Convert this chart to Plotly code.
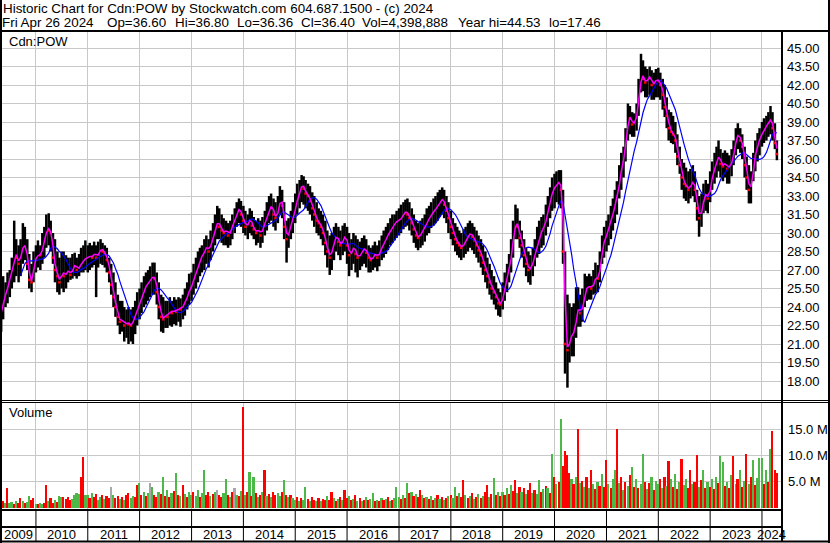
import plotly.graph_objects as go
import pandas as pd

# ---------------- data (semi-monthly bars) ----------------
dates = pd.date_range("2009-05-01", periods=360, freq="SMS")

hi = [
 25.5, 26.5, 26.0, 26.8, 27.0, 28.0, 31.0, 29.5, 29.0, 29.5, 30.8, 30.5, 29.5, 28.3, 27.5, 28.5,
 29.0, 29.4, 29.0, 30.0, 30.5, 31.5, 31.6, 31.0, 30.0, 29.5, 28.5, 28.0, 28.5, 28.5, 28.2, 28.0, 28.0, 28.3, 28.4, 28.0, 28.3, 28.8, 29.0, 29.4,
 29.0, 29.2, 29.0, 29.3, 29.0, 29.3, 29.5, 29.2, 29.0, 28.8, 28.0, 27.5, 26.8, 26.0, 25.0, 24.5, 24.5, 24.0, 23.8, 24.0, 23.8, 24.0, 24.5, 25.2,
 25.5, 26.0, 26.5, 26.8, 27.0, 27.3, 27.6, 27.6, 26.8, 26.0, 25.0, 24.8, 24.5, 24.5, 24.8, 24.5, 24.8, 24.6, 24.8, 24.7, 25.0, 25.5, 26.0, 26.7,
 26.8, 27.5, 28.0, 28.5, 28.8, 29.0, 29.5, 29.8, 29.5, 30.2, 30.8, 31.5, 32.2, 32.0, 31.5, 31.2, 31.0, 30.8, 31.0, 31.5, 32.0, 32.5, 32.8, 32.6,
 32.2, 31.8, 31.5, 32.0, 31.8, 31.3, 31.0, 31.2, 31.0, 31.3, 31.8, 32.5, 33.0, 33.2, 32.8, 32.5, 33.0, 33.8, 33.5, 32.5, 31.0, 31.2, 31.8, 32.5,
 33.2, 34.0, 34.3, 34.7, 34.6, 34.3, 34.0, 33.8, 33.3, 33.0, 32.5, 32.0, 31.8, 31.5, 31.0, 30.2, 29.8, 30.0, 30.5, 30.8, 30.5, 30.2, 30.6, 30.8,
 30.5, 30.0, 29.5, 30.0, 29.8, 29.5, 29.3, 29.6, 29.8, 29.5, 29.0, 28.8, 29.0, 29.3, 29.0, 29.4, 29.8, 30.2, 30.5, 30.8, 31.2, 31.5, 31.5, 31.8,
 32.0, 32.3, 32.5, 32.7, 32.8, 32.5, 32.0, 31.5, 31.0, 30.8, 31.0, 31.2, 31.5, 32.0, 32.2, 32.5, 32.8, 33.0, 33.3, 33.5, 33.7, 33.5, 33.0, 32.5,
 31.8, 31.2, 30.8, 30.5, 30.2, 30.0, 30.3, 30.5, 30.8, 31.0, 30.8, 30.5, 30.2, 29.8, 29.5, 29.0, 28.5, 28.0, 27.5, 27.0, 26.5, 26.0, 25.5, 25.2,
 26.0, 26.8, 27.5, 28.3, 29.5, 31.0, 32.3, 32.0, 31.0, 30.2, 29.5, 28.8, 28.5, 28.2, 28.8, 29.5, 30.5, 31.0, 31.3, 31.5, 32.3, 33.0, 33.7, 34.5,
 34.8, 35.0, 35.1, 35.1, 33.5, 28.5, 25.0, 24.3, 24.0, 24.3, 25.6, 25.6, 25.0, 25.5, 26.7, 26.5, 26.7, 26.5, 27.0, 27.6, 27.4, 28.5, 29.8, 30.5,
 31.0, 31.5, 32.2, 32.8, 33.5, 34.2, 35.5, 36.5, 37.0, 38.5, 40.5, 40.3, 39.8, 39.7, 40.5, 42.5, 44.53, 44.0, 43.5, 43.3, 43.5, 43.2, 43.0, 43.3,
 43.4, 43.0, 42.5, 42.0, 41.0, 40.0, 39.8, 39.5, 39.0, 38.0, 37.0, 36.0, 35.7, 35.3, 35.0, 35.2, 35.5, 35.0, 33.5, 33.0, 33.2, 34.0, 34.3, 34.0,
 35.0, 35.8, 36.5, 37.0, 37.5, 36.8, 36.5, 36.7, 36.5, 36.3, 36.8, 37.5, 38.5, 38.9, 38.5, 38.0, 37.0, 36.2, 35.5, 35.0, 36.5, 37.5, 38.1, 38.5,
 39.0, 39.3, 39.5, 39.8, 40.3, 39.8, 38.9, 37.5,
]
lo = [
 22.0, 23.0, 24.0, 24.3, 24.8, 25.5, 26.0, 26.5, 26.0, 26.5, 27.5, 27.8, 27.0, 25.5, 25.2, 26.0,
 26.8, 27.2, 27.0, 27.5, 28.0, 28.8, 29.0, 28.5, 27.5, 26.0, 25.2, 25.0, 25.5, 25.2, 25.5, 26.0, 26.2, 26.3, 26.5, 26.3, 26.5, 26.8, 26.8, 27.0,
 26.8, 27.0, 27.2, 27.4, 24.8, 27.2, 27.5, 27.4, 27.2, 26.8, 26.0, 25.0, 24.0, 23.2, 22.5, 21.8, 22.0, 21.2, 21.5, 21.0, 21.2, 21.0, 21.8, 22.5,
 23.0, 23.5, 24.0, 24.2, 24.5, 24.8, 25.0, 25.0, 24.2, 23.0, 22.0, 21.9, 22.3, 22.3, 22.5, 22.4, 22.6, 22.5, 22.8, 22.4, 23.0, 23.3, 23.8, 24.2,
 24.5, 25.0, 25.5, 26.0, 26.5, 26.8, 27.0, 27.5, 27.2, 27.8, 28.5, 29.0, 29.5, 29.5, 29.2, 29.0, 29.0, 28.8, 29.0, 29.5, 30.0, 30.5, 30.8, 30.5,
 30.0, 29.8, 29.5, 30.0, 29.8, 29.5, 29.0, 29.2, 28.8, 29.2, 29.8, 30.2, 30.8, 31.0, 30.5, 30.2, 30.8, 31.5, 31.2, 29.5, 27.6, 28.8, 29.5, 30.0,
 30.8, 31.5, 32.0, 32.5, 32.3, 32.0, 31.8, 31.5, 31.0, 30.5, 30.0, 29.8, 29.5, 29.0, 28.2, 27.2, 26.6, 27.0, 27.8, 28.5, 28.2, 27.8, 28.2, 28.5,
 27.5, 26.5, 27.0, 27.5, 26.8, 26.4, 27.0, 27.3, 27.5, 27.2, 26.8, 26.8, 27.0, 27.2, 26.9, 27.3, 27.8, 28.0, 28.3, 28.6, 29.0, 29.2, 29.4, 29.6,
 29.8, 30.0, 30.3, 30.5, 30.6, 30.2, 29.8, 29.2, 28.8, 28.6, 28.8, 29.0, 29.3, 29.8, 30.0, 30.4, 30.6, 30.8, 31.0, 31.3, 31.5, 31.2, 30.8, 30.0,
 29.5, 29.0, 28.5, 28.2, 28.0, 27.8, 28.0, 28.3, 28.5, 28.8, 28.6, 28.3, 28.0, 27.6, 27.2, 26.6, 26.0, 25.5, 25.0, 24.6, 24.2, 23.8, 23.3, 23.2,
 23.8, 24.5, 25.2, 26.0, 26.8, 28.0, 29.5, 29.5, 28.8, 28.0, 27.2, 26.5, 26.0, 25.8, 26.5, 27.3, 28.0, 28.3, 28.8, 29.0, 29.8, 30.5, 31.2, 31.8,
 32.0, 32.5, 32.3, 32.0, 27.5, 18.6, 17.46, 19.5, 20.0, 20.0, 21.5, 22.4, 22.4, 22.8, 24.0, 24.5, 24.6, 24.6, 25.0, 25.1, 25.2, 26.0, 27.5, 28.0,
 28.5, 29.0, 29.5, 30.2, 30.8, 31.5, 32.8, 33.5, 34.5, 35.8, 37.5, 38.0, 37.8, 37.8, 38.3, 39.5, 41.4, 41.5, 41.0, 41.0, 41.2, 40.8, 40.8, 41.0,
 41.0, 40.8, 40.0, 39.4, 38.5, 37.5, 37.3, 37.2, 36.5, 35.5, 34.8, 33.5, 32.8, 32.6, 32.4, 32.8, 33.0, 32.5, 31.0, 29.7, 30.5, 31.6, 31.8, 31.6,
 32.5, 33.5, 34.0, 34.5, 35.0, 34.5, 34.2, 34.5, 34.0, 34.0, 34.6, 35.5, 36.3, 36.8, 36.5, 36.0, 34.5, 33.5, 32.4, 32.4, 34.2, 35.0, 35.8, 36.3,
 37.0, 37.3, 37.5, 37.8, 38.0, 37.5, 36.8, 35.9,
]
cl = [
 23.5, 25.0, 25.0, 26.0, 26.5, 27.0, 28.5, 28.0, 27.5, 28.5, 29.0, 29.0, 27.5, 26.2, 26.0, 27.8,
 28.0, 28.3, 28.2, 29.0, 29.5, 30.5, 30.2, 30.0, 28.0, 27.0, 26.5, 26.0, 27.0, 26.5, 26.8, 27.0, 26.6, 27.2, 27.5, 27.0, 27.3, 27.6, 27.8, 28.0,
 28.0, 28.2, 28.0, 28.5, 28.0, 28.4, 28.8, 28.5, 28.3, 27.8, 26.8, 25.8, 24.8, 24.0, 23.2, 22.8, 23.0, 22.5, 22.8, 22.6, 22.5, 23.0, 23.5, 24.2,
 24.5, 25.0, 25.5, 25.8, 26.0, 26.3, 26.5, 26.3, 25.2, 24.0, 23.2, 23.0, 23.5, 23.2, 23.8, 23.5, 23.8, 23.6, 24.0, 23.8, 24.2, 24.5, 25.0, 25.5,
 25.8, 26.5, 27.0, 27.5, 28.0, 28.2, 28.6, 29.0, 28.5, 29.3, 29.8, 30.5, 31.0, 30.5, 30.2, 30.0, 30.3, 29.8, 30.2, 30.8, 31.2, 31.8, 32.0, 31.5,
 31.0, 30.5, 30.8, 31.2, 30.6, 30.3, 30.0, 30.4, 29.8, 30.5, 31.0, 31.5, 32.0, 32.3, 31.5, 31.2, 32.0, 32.8, 32.2, 30.5, 29.5, 30.2, 30.8, 31.5,
 32.2, 33.0, 33.5, 34.0, 33.6, 33.2, 33.0, 32.6, 32.0, 31.5, 31.0, 30.8, 30.5, 30.0, 29.2, 28.5, 28.0, 28.8, 29.5, 29.8, 29.3, 29.0, 29.5, 29.8,
 29.0, 28.2, 28.5, 29.0, 28.3, 28.0, 28.3, 28.6, 28.8, 28.4, 28.0, 27.8, 28.1, 28.4, 28.0, 28.5, 29.0, 29.3, 29.6, 30.0, 30.3, 30.6, 30.8, 31.0,
 31.0, 31.3, 31.6, 31.8, 31.5, 31.2, 30.8, 30.3, 29.8, 29.6, 30.0, 30.2, 30.5, 31.0, 31.3, 31.6, 31.8, 32.0, 32.3, 32.6, 32.8, 32.3, 31.8, 31.2,
 30.5, 30.0, 29.5, 29.2, 29.0, 28.8, 29.2, 29.5, 29.8, 30.0, 29.7, 29.4, 29.0, 28.6, 28.2, 27.6, 27.0, 26.5, 26.0, 25.5, 25.2, 24.8, 24.3, 24.2,
 25.0, 25.8, 26.5, 27.3, 28.5, 30.0, 31.0, 30.5, 29.6, 29.0, 28.2, 27.5, 27.0, 27.2, 27.8, 28.5, 29.3, 29.8, 30.3, 30.5, 31.3, 32.0, 32.8, 33.5,
 33.8, 34.0, 34.2, 33.5, 28.5, 21.0, 20.5, 21.5, 21.8, 22.0, 23.5, 24.0, 23.5, 24.2, 25.5, 25.5, 25.8, 25.5, 26.0, 26.5, 26.3, 27.5, 29.0, 29.5,
 30.0, 30.5, 31.2, 31.8, 32.5, 33.2, 34.5, 35.5, 36.3, 37.8, 39.5, 39.3, 38.8, 39.0, 39.8, 41.5, 43.0, 42.5, 42.2, 42.5, 42.8, 42.0, 42.2, 42.5,
 42.3, 42.0, 41.2, 40.2, 39.5, 38.5, 38.2, 38.0, 37.5, 36.2, 35.5, 34.5, 34.0, 33.8, 33.5, 34.0, 34.2, 33.5, 32.0, 31.2, 32.0, 33.0, 33.2, 32.8,
 34.0, 34.8, 35.5, 36.0, 36.3, 35.6, 35.4, 35.8, 35.2, 35.5, 35.8, 36.8, 37.8, 38.0, 37.5, 37.0, 35.5, 34.5, 33.5, 34.0, 35.8, 36.8, 37.3, 37.8,
 38.2, 38.5, 38.8, 39.0, 39.3, 38.5, 37.3, 36.4,
]
# volume in millions
vol = [
 1.5, 1.2, 1.0, 3.8, 0.9, 1.1, 0.8, 1.3, 1.0, 1.9, 1.2, 0.9, 1.1, 2.2, 1.4, 1.9,
 0.8, 0.7, 0.9, 0.7, 1.0, 4.4, 1.2, 1.9, 1.0, 1.5, 1.1, 2.2, 2.0, 2.0, 1.7, 2.0, 1.4, 1.6, 2.5, 2.8, 2.6, 6.0, 9.8, 2.5,
 2.4, 1.8, 2.8, 2.0, 2.6, 1.5, 2.0, 2.5, 1.7, 2.2, 1.9, 4.0, 2.4, 1.8, 2.3, 1.6, 2.0, 1.5, 2.5, 2.9, 1.8, 2.2, 2.0, 4.4,
 4.7, 2.5, 3.0, 2.2, 2.8, 4.7, 3.9, 2.4, 2.0, 3.0, 2.6, 6.0, 2.2, 3.4, 2.0, 2.8, 3.2, 6.7, 2.5, 2.2, 4.4, 2.6, 2.0, 3.0,
 2.5, 3.0, 2.2, 3.5, 2.0, 2.8, 7.2, 2.4, 3.0, 2.2, 2.6, 3.0, 3.4, 2.5, 2.0, 2.8, 5.6, 2.4, 2.0, 3.0, 3.7, 2.5, 2.2, 3.2,
 19.4, 2.5, 3.0, 6.8, 2.2, 6.0, 2.8, 2.0, 2.5, 3.0, 7.2, 2.2, 2.6, 2.0, 3.0, 2.4, 2.8, 2.2, 3.0, 5.3, 2.5, 2.0, 2.4, 1.8,
 1.5, 2.0, 1.2, 1.8, 1.4, 4.0, 1.6, 1.2, 2.0, 1.5, 1.3, 1.8, 1.2, 1.6, 1.4, 2.2, 1.5, 3.1, 1.8, 1.3, 1.6, 2.0, 1.4, 3.4,
 1.8, 2.2, 1.4, 1.6, 2.5, 1.3, 1.8, 1.2, 1.5, 2.0, 1.4, 1.7, 2.8, 1.3, 1.5, 1.2, 1.8, 1.4, 1.6, 2.0, 1.3, 1.5, 1.8, 4.0,
 2.0, 1.6, 2.4, 1.8, 4.8, 2.8, 3.0, 2.2, 2.6, 2.0, 3.5, 2.4, 1.8, 2.0, 1.6, 2.2, 1.5, 1.8, 2.4, 1.6, 2.0, 1.4, 1.8, 2.2,
 2.4, 1.8, 4.0, 2.2, 2.8, 2.0, 5.3, 2.4, 1.8, 2.2, 2.8, 1.6, 2.0, 2.6, 1.8, 2.2, 3.0, 4.4, 2.0, 2.6, 5.8, 2.4, 3.0, 2.2,
 3.0, 2.4, 3.8, 2.6, 4.4, 3.2, 5.4, 2.8, 4.0, 3.0, 3.7, 2.6, 3.5, 4.7, 2.8, 3.4, 2.6, 5.3, 3.0, 3.6, 4.2, 3.8, 2.8, 10.4,
 6.0, 4.5, 5.0, 17.0, 8.0, 11.0, 10.1, 6.6, 5.5, 4.5, 6.0, 15.1, 4.7, 5.2, 4.0, 6.0, 3.8, 7.2, 4.5, 3.6, 5.0, 4.2, 6.5, 4.0,
 9.2, 4.5, 3.8, 5.5, 7.2, 15.1, 4.8, 6.0, 3.5, 5.0, 4.2, 6.2, 7.9, 4.0, 5.5, 3.8, 4.6, 10.4, 5.0, 3.6, 4.8, 6.0, 3.4, 5.2,
 4.5, 5.5, 3.8, 6.0, 4.2, 9.0, 5.6, 4.0, 6.4, 3.6, 5.0, 9.3, 4.4, 5.6, 3.8, 7.2, 4.6, 5.0, 10.2, 4.0, 5.4, 7.2, 3.8, 5.0,
 4.0, 5.5, 3.6, 6.0, 4.8, 9.9, 8.8, 4.2, 5.0, 3.8, 6.2, 9.9, 4.5, 5.6, 7.2, 4.0, 5.2, 10.3, 4.6, 6.0, 9.2, 4.4, 5.8, 9.5,
 9.5, 4.5, 7.2, 5.0, 11.3, 14.7, 7.2, 6.6,
]
# volume bar colour code per bar: g = up, r = down, n = unchanged
vol_dir = list(
    "grgrggrgrrgrggrr"
    "grggrrgrrgrggrrrrggggrrg"
    "grgrrggrgrrngrrgrgrrggrr"
    "grgrgngrrgrgrgrgrgrgrgrg"
    "grggrggrrgrgnrrggrgrngrg"
    "rgrgrgrgrgrgrgrrggrgrgrg"
    "grgrggrgrrgrgrrgrrgrgrgr"
    "rgrgrgrgrgrggrgrgrgrgrgg"
    "grgrgrgrgrrgrgrgrgrgrgrg"
    "rggrgrrgrgrgrgrgrrgrgrgr"
    "grgrgrrgrgrgrrgrggrgrgrg"
    "rgrgrrrrgrgrgrgrgrgrgrgr"
    "rgrggrgrgrgrgrgrggrgrgrg"
    "grgrgrgrgrgrggrrgrrgrgrg"
    "rgrgrggrgrgrgrgrgrgrgrgg"
    "grgrgrrr"
)
years = list(range(2009, 2025))
price_ticks = [18.0, 19.5, 21.0, 22.5, 24.0, 25.5, 27.0, 28.5, 30.0, 31.5, 33.0,
               34.5, 36.0, 37.5, 39.0, 40.5, 42.0, 43.5, 45.0]
vol_ticks = [5, 10, 15]
vol_tick_text = ["5.0 M", "10.0 M", "15.0 M"]
header1 = "Historic Chart for Cdn:POW by Stockwatch.com 604.687.1500 - (c) 2024"
header2 = [("Fri Apr 26 2024", 1), ("Op=36.60", 106), ("Hi=36.80", 174), ("Lo=36.36", 236),
           ("Cl=36.40", 300), ("Vol=4,398,888", 361), ("Year hi=44.53", 457), ("lo=17.46", 548)]

# ---------------- geometry ----------------
W, H = 830, 543
def px(x): return x / W
def py(y): return 1 - y / H

FONT = "Liberation Sans, Arial, sans-serif"
X0, X1 = 2, 782
x_range = [pd.Timestamp("2009-05-07"), pd.Timestamp("2024-05-21")]
year_starts = [pd.Timestamp(f"{y}-01-01") for y in years[1:]]

# ---------------- traces ----------------
seg_x, seg_y = [], []
for d, h, l in zip(dates, hi, lo):
    seg_x += [d, d, None]
    seg_y += [l, h, None]

s = pd.Series(cl)
ma_fast = s.rolling(2, min_periods=1).mean()
ma_slow = s.rolling(10).mean()

dn_x = [dates[i] for i in range(1, len(cl)) if cl[i] < cl[i - 1]]
dn_y = [cl[i] for i in range(1, len(cl)) if cl[i] < cl[i - 1]]

cmap = {"g": "#4cb848", "r": "#ff0000", "n": "#a8a8a8"}
vcol = [cmap[c] for c in vol_dir]

fig = go.Figure()
fig.add_trace(go.Scatter(x=seg_x, y=seg_y, mode="lines", line=dict(color="black", width=2.5),
                         connectgaps=False, hoverinfo="skip", xaxis="x", yaxis="y"))
fig.add_trace(go.Scatter(x=dn_x, y=dn_y, mode="markers",
                         marker=dict(color="red", size=2.5, symbol="square", line=dict(width=0)),
                         hoverinfo="skip", xaxis="x", yaxis="y"))
fig.add_trace(go.Scatter(x=dates, y=ma_slow, mode="lines", line=dict(color="#0000ff", width=1.2),
                         xaxis="x", yaxis="y"))
fig.add_trace(go.Scatter(x=dates, y=ma_fast, mode="lines", line=dict(color="#ff00ff", width=1.5),
                         xaxis="x", yaxis="y"))
fig.add_trace(go.Bar(x=dates, y=vol, marker=dict(color=vcol, line=dict(width=0)),
                     width=12 * 86400000, xaxis="x2", yaxis="y2"))

grid = "#c8c8c8"
tickfont = dict(family=FONT, size=13, color="black")
xcommon = dict(type="date", range=x_range, domain=[px(X0), px(X1)], tickvals=year_starts,
               showticklabels=False, showgrid=True, gridcolor=grid, gridwidth=1,
               ticks="", zeroline=False, showline=False, fixedrange=True)

p_top, p_bot = 31, 400
v_top, v_bot = 402, 510
price_lo = 33 - (p_bot - 196) / 12.333
price_hi = 33 + (196 - p_top) / 12.333
vz = 507.7
vpx = 5.2
vol_lo = -(v_bot - vz) / vpx
vol_hi = (vz - v_top) / vpx

fig.update_layout(
    width=W, height=H, margin=dict(l=0, r=0, t=0, b=0),
    paper_bgcolor="white", plot_bgcolor="white", showlegend=False, bargap=0,
    xaxis=dict(**xcommon, anchor="y"),
    xaxis2=dict(**xcommon, anchor="y2", matches="x"),
    yaxis=dict(domain=[py(p_bot), py(p_top)], range=[price_lo, price_hi], side="right",
               tickvals=price_ticks, tickformat=".2f", showgrid=True, gridcolor=grid, gridwidth=1,
               ticks="", zeroline=False, showline=False, tickfont=tickfont, anchor="x",
               ticklabelstandoff=4, fixedrange=True),
    yaxis2=dict(domain=[py(v_bot), py(v_top)], range=[vol_lo, vol_hi], side="right",
                tickvals=vol_ticks, ticktext=vol_tick_text, showgrid=True, gridcolor=grid,
                gridwidth=1, ticks="", zeroline=False, showline=False, tickfont=tickfont,
                anchor="x2", ticklabelstandoff=5, fixedrange=True),
)

# ---------------- frame lines ----------------
shapes = []
def hline(y, x0=0, x1=W, w=2):
    shapes.append(dict(type="line", xref="paper", yref="paper", x0=px(x0), x1=px(x1),
                       y0=py(y), y1=py(y), line=dict(color="black", width=w)))
def vline(x, y0, y1, w=2):
    shapes.append(dict(type="line", xref="paper", yref="paper", x0=px(x), x1=px(x),
                       y0=py(y0), y1=py(y1), line=dict(color="black", width=w)))

vline(1, 0, H, 2)
vline(829, 0, H, 2)
hline(541.5, 0, W, 2)
hline(31, 0, W, 2)
hline(400.5, 0, W, 1)
hline(402.5, 0, W, 1)
vline(782, 31, 541, 2)
hline(510, 0, 782, 2)
hline(527, 0, 782, 2)
for ys in year_starts:
    shapes.append(dict(type="line", xref="x2", yref="paper", x0=ys, x1=ys,
                       y0=py(510), y1=py(541), line=dict(color="black", width=1)))
fig.update_layout(shapes=shapes)

# ---------------- texts ----------------
ann = []
hfont = dict(family=FONT, size=13.4, color="black")
ann.append(dict(text=header1, x=px(1), y=py(8.5), xref="paper", yref="paper",
                xanchor="left", yanchor="middle", showarrow=False, font=hfont))
for t, xx in header2:
    ann.append(dict(text=t, x=px(xx - 1), y=py(22.5), xref="paper", yref="paper",
                    xanchor="left", yanchor="middle", showarrow=False, font=hfont))
ann.append(dict(text="Cdn:POW", x=px(7), y=py(41), xref="paper", yref="paper",
                xanchor="left", yanchor="middle", showarrow=False, font=tickfont))
ann.append(dict(text="Volume", x=px(7), y=py(413), xref="paper", yref="paper",
                xanchor="left", yanchor="middle", showarrow=False, font=tickfont))
for y in years:
    a = max(pd.Timestamp(f"{y}-01-01"), x_range[0])
    b = min(pd.Timestamp(f"{y + 1}-01-01"), x_range[1])
    mid = a + (b - a) / 2
    ann.append(dict(text=str(y), x=mid, y=py(534), xref="x2", yref="paper",
                    xanchor="center", yanchor="middle", showarrow=False, font=tickfont))
fig.update_layout(annotations=ann)

fig.write_html("out.html", config={"displayModeBar": False},
               post_script="document.body.style.margin='0';document.body.style.overflow='hidden';")
